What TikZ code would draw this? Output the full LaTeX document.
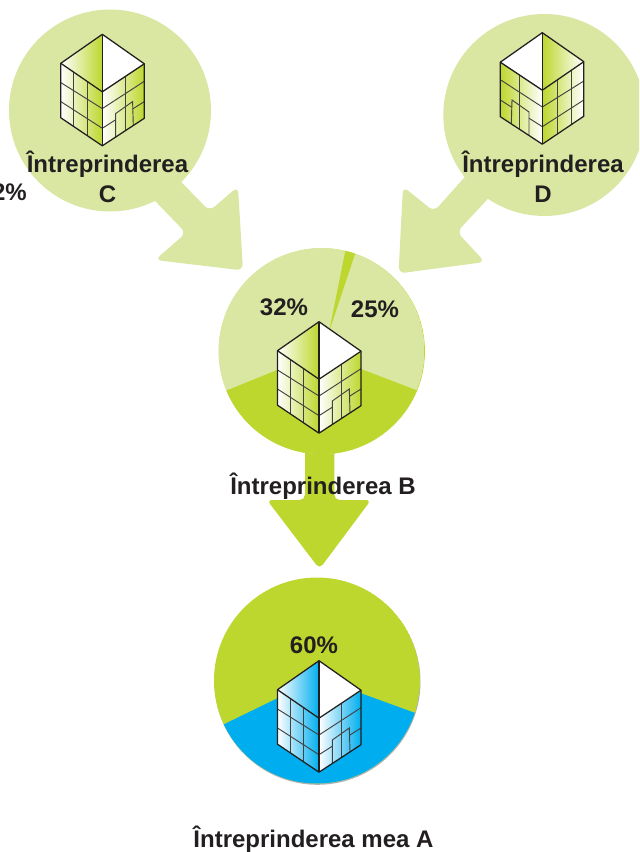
\documentclass[tikz,border=0pt]{standalone}
\usepackage{fontspec}
\setmainfont{Liberation Sans}
\definecolor{lightgr}{HTML}{D9E7A3}
\definecolor{darkgr}{HTML}{BDD72E}
\definecolor{bluefill}{HTML}{00AEEF}
\definecolor{ink}{HTML}{231F20}
\tikzset{
  lbl/.style={font=\bfseries\fontsize{18}{22.5}\selectfont,text=ink,align=center,inner sep=0pt},
  edge/.style={draw=ink,line width=0.95pt,line join=round},
  thin edge/.style={draw=ink!85,line width=0.7pt},
}
% #1 x of top vertex, #2 y of top vertex, #3 colour, #4 direction (1 or -1)
\newcommand{\bldg}[4]{%
\begin{scope}[shift={(#1,#2)},xscale=#4]
  \colorlet{mid}{#3!16!white}
  \ifnum#4=1
    \def\faceA{left color=white,middle color=mid,right color=#3}
  \else
    \def\faceA{left color=#3,middle color=mid,right color=white}
  \fi
  \fill[white] (0,0) -- (42,29.5) -- (0,57.5) -- cycle;
  \expandafter\shade\expandafter[\faceA] (0,0) -- (-41.5,29) -- (0,57.5) -- cycle;
  \expandafter\shade\expandafter[\faceA] (-41.5,29) -- (0,57.5) -- (0,111.5) -- (-41.5,83.5) -- cycle;
  \expandafter\shade\expandafter[\faceA] (0,57.5) -- (42,29.5) -- (42,84) -- (0,111.5) -- cycle;
  % left face grid
  \draw[thin edge] (-41.5,48.3) -- (0,74.3);
  \draw[thin edge] (-41.5,67.3) -- (0,94);
  \draw[thin edge] (-29,37.6) -- (-29,92.1);
  \draw[thin edge] (-15.3,47) -- (-15.3,101);
  % right face grid
  \draw[thin edge] (0,74.3) -- (42,47);
  \draw[thin edge] (0,94) -- (13.3,85.5);
  \draw[thin edge] (30.6,74.5) -- (42,67.3);
  \draw[thin edge] (22.7,42.4) -- (22.7,96.6);
  \draw[thin edge] (13.3,102.8) -- (13.3,79.3) -- (30.3,67.3) -- (31,91);
  % outline
  \draw[edge] (0,0) -- (-41.5,29) -- (-41.5,83.5) -- (0,111.5) -- (42,84) -- (42,29.5) -- cycle;
  \draw[edge] (-41.5,29) -- (0,57.5) -- (42,29.5);
  \draw[edge] (0,0) -- (0,111.5);
\end{scope}}
\begin{document}
\begin{tikzpicture}[x=0.75pt,y=-0.75pt]
\useasboundingbox (0,0) rectangle (639,852);
\begin{scope}
\clip (0,0) rectangle (639,852);
% arrows into B
\fill[lightgr,rounded corners=5pt] (150,150) -- (209.5,211) -- (238,186.5) -- (243,270.5) -- (155,260) -- (186,233) -- (130,175) -- cycle;
\fill[lightgr,rounded corners=5pt] (480,160) -- (434,211.5) -- (403,186.5) -- (398.5,273.5) -- (485,262) -- (457,232) -- (510,175) -- cycle;
% circles C and D
\fill[lightgr] (110,110.5) circle[radius=101];
\fill[lightgr] (544.3,115) circle[radius=101];
% arrow B to A
\fill[darkgr,rounded corners=4pt] (305,440) -- (305,500) -- (267,500) -- (319.5,569) -- (371,500) -- (334.3,500) -- (334.3,440) -- cycle;
% circle B
\fill[darkgr] (321.9,351.3) circle[radius=103];
\begin{scope}
  \clip (321.5,351) circle[radius=103];
  \fill[lightgr] (321.5,351) circle[radius=103];
  \fill[darkgr] (319,353) -- (180,409.4) -- (180,480) -- (460,480) -- (460,406.8) -- cycle;
  \fill[darkgr] (346.5,245) -- (357,248) -- (329,332) -- cycle;
\end{scope}
% circle A
\fill[black!30] (317.5,681.8) circle[radius=103];
\begin{scope}
  \clip (317,680.5) circle[radius=103];
  \fill[darkgr] (317,680.5) circle[radius=103];
  \fill[bluefill] (319,678) -- (190,740.8) -- (190,800) -- (440,800) -- (440,722) -- cycle;
\end{scope}
\bldg{102.3}{34.3}{darkgr}{1}
\bldg{542.3}{32.7}{darkgr}{-1}
\bldg{319}{321.7}{darkgr}{1}
\bldg{319}{660.7}{bluefill}{1}
\node[lbl] (c) at (107.5,176.5) {Întreprinderea\\C};
\node[lbl] (d) at (543,176.5) {Întreprinderea\\D};
\node[lbl] (b) at (323,486.5) {Întreprinderea B};
\node[lbl] (a) at (313.5,839.5) {Întreprinderea mea A};
\node[lbl,anchor=east] (p0) at (27,192) {2\%};
\node[lbl] (p1) at (284,307.5) {32\%};
\node[lbl] (p2) at (375,309.5) {25\%};
\node[lbl] (p3) at (314,645.5) {60\%};
\end{scope}
\end{tikzpicture}
\end{document}
